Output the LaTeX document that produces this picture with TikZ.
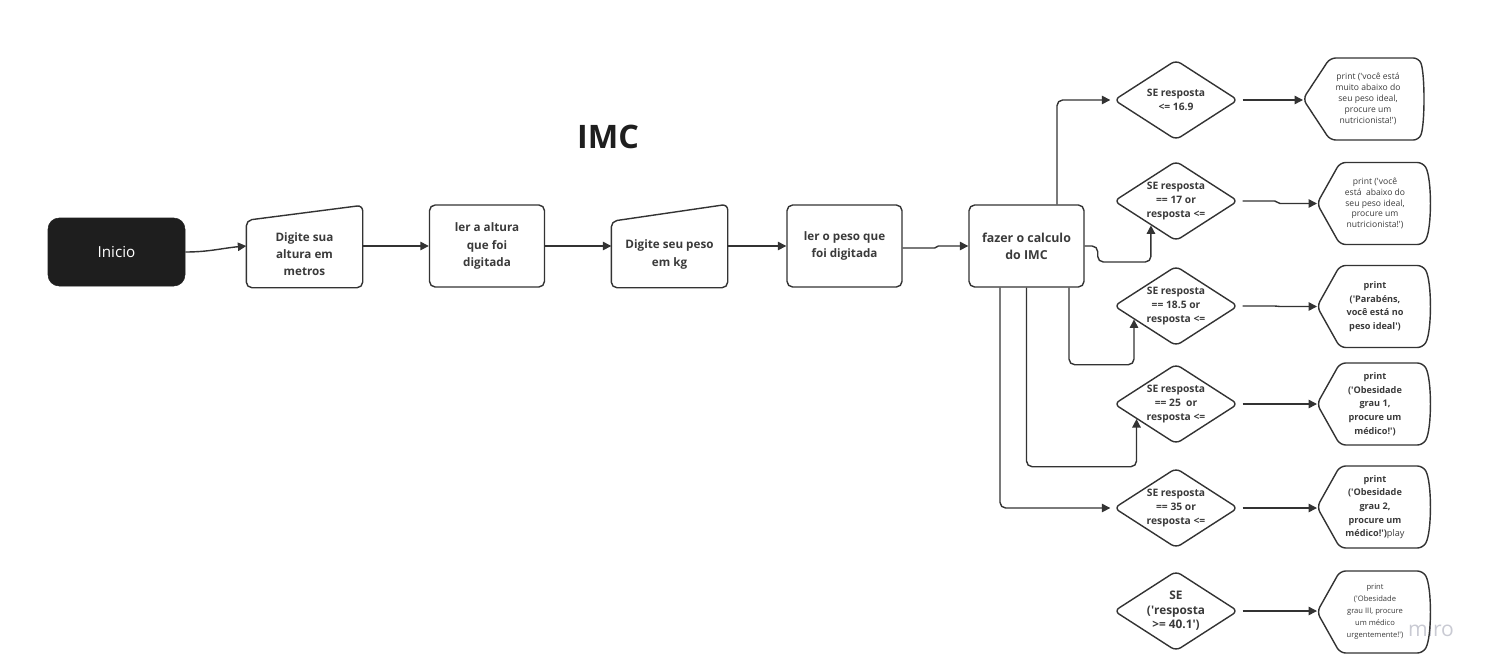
\documentclass[tikz,border=0pt]{standalone}
\usepackage{fontspec}
\setmainfont{Open Sans}
\usetikzlibrary{arrows.meta,shapes.geometric,calc}
\definecolor{ink}{HTML}{1E1E1E}
\definecolor{lineclr}{HTML}{333333}
\definecolor{txtclr}{HTML}{3A3A3A}
\definecolor{mirogray}{HTML}{C9CAD3}
\newlength\pxu
\setlength\pxu{0.025cm}

\begin{document}
\begin{tikzpicture}[
    x=0.025cm, y=-0.025cm,
    start/.style={fill=ink, draw=ink, rounded corners=8pt, minimum width=137\pxu,
                  minimum height=68\pxu, text=white, font=\fontsize{10.8}{13}\selectfont},
    proc/.style={draw=lineclr, line width=1pt, rounded corners=4pt, minimum width=115\pxu,
                 minimum height=82\pxu, align=center, text=txtclr,
                 font=\fontsize{8.3}{12.3}\selectfont\bfseries},
    inbox/.style={proc, draw=none, minimum height=66\pxu},
    outline/.style={draw=lineclr, line width=1pt, rounded corners=4pt},
    cond/.style={diamond, aspect=1.55, draw=lineclr, line width=1pt, rounded corners=4pt,
                 minimum width=124\pxu, minimum height=80\pxu, inner sep=0pt, align=center,
                 text=txtclr, font=\fontsize{7.3}{9.8}\selectfont\bfseries},
    disp/.style={align=center, inner sep=0pt, text=txtclr, font=\fontsize{6.1}{7.7}\selectfont},
    dispb/.style={disp, font=\fontsize{6.5}{9.7}\selectfont\bfseries},
    arr/.style={-{Triangle[length=6pt,width=6pt]}, draw=lineclr, line width=1pt, rounded corners=4pt},
    jog/.style={arr, sharp corners},
]
\useasboundingbox (0,0) rectangle (1490,671);

% ── Title ─────────────────────────────────────────────
\node[font=\fontsize{23}{26}\selectfont\bfseries, text=ink] (title) at (608,137) {IMC};

% ── Main row ──────────────────────────────────────────
\node[start] (ini) at (116.5,252) {Inicio};
\node[inbox] (alt) at (304.5,254) {Digite sua\\altura em\\metros};
\draw[outline] (alt.north west) -- ([yshift=15\pxu]alt.north east)
    -- (alt.south east) -- (alt.south west) -- cycle;
\node[proc] (lalt) at (487,246) {ler a altura\\que foi\\digitada};
\node[inbox, minimum height=65\pxu] (kg) at (669.5,254.5) {Digite seu peso\\em kg};
\draw[outline] (kg.north west) -- ([yshift=17\pxu]kg.north east)
    -- (kg.south east) -- (kg.south west) -- cycle;
\node[proc] (lpeso) at (844.5,246) {ler o peso que\\foi digitada};
\node[proc, font=\fontsize{8.8}{12.3}\selectfont\bfseries] (imc) at (1026.5,246) {fazer o calculo\\do IMC};

% ── Conditions ────────────────────────────────────────
\node[cond] (c1) at (1176,100) {SE resposta\\<= 16.9};
\node[cond] (c2) at (1176,201) {SE resposta\\== 17 or\\resposta <=};
\node[cond] (c3) at (1176,306) {SE resposta\\== 18.5 or\\resposta <=};
\node[cond] (c4) at (1176,404) {SE resposta\\== 25~ or\\resposta <=};
\node[cond] (c5) at (1176,508) {SE resposta\\== 35 or\\resposta <=};
\node[cond, font=\fontsize{8.4}{10.3}\selectfont\bfseries] (c6) at (1176,611)
    {SE\\(\textquotesingle resposta\\>= 40.1\textquotesingle)};

% ── Watermark ─────────────────────────────────────────
\node[text=mirogray, font=\fontsize{15}{15}\selectfont] (miro) at (1431,629) {miro};

% ── Outputs ───────────────────────────────────────────
\node[disp] (p1) at (1368,99)
    {print (\textquotesingle você está\\muito abaixo do\\seu peso ideal,\\procure um\\nutricionista!\textquotesingle)};
\node[disp] (p2) at (1375,203.5)
    {print (\textquotesingle você\\está~ abaixo do\\seu peso ideal,\\procure um\\nutricionista!\textquotesingle)};
\node[dispb] (p3) at (1375,306.5)
    {print\\(\textquotesingle Parabéns,\\você está no\\peso ideal\textquotesingle)};
\node[dispb] (p4) at (1375,404)
    {print\\(\textquotesingle Obesidade\\grau 1,\\procure um\\médico!\textquotesingle)};
\node[dispb] (p5) at (1375,507)
    {print\\(\textquotesingle Obesidade\\grau 2,\\procure um\\médico!\textquotesingle)\mdseries play};
\node[disp, font=\fontsize{5.4}{8.5}\selectfont] (p6) at (1375,612)
    {print\\(\textquotesingle Obesidade\\grau III, procure\\um médico\\urgentemente!\textquotesingle)};

\foreach \p/\t/\f/\r/\b in {p1/65/38/51/6, p2/58/35/48/9, p3/58/35/48/9,
                            p4/58/35/48/9, p5/58/35/48/9, p6/58/35/48/9}
  \draw[outline] ($(\p)+(-\t,0)$) coordinate (\p-tip) -- ($(\p)+(-\f,-41)$) -- ($(\p)+(\r,-41)$)
      .. controls ($(\p)+(\r+\b,-25)$) and ($(\p)+(\r+\b,25)$) .. ($(\p)+(\r,41)$)
      -- ($(\p)+(-\f,41)$) -- cycle;

% ── Main row flow ─────────────────────────────────────
\draw[arr] (ini.east) to[out=0, in=185] (alt.west |- lalt.west);
\draw[arr] (alt.east |- lalt.west) -- (lalt.west);
\draw[arr] (lalt.east) -- (kg.west |- lalt.east);
\draw[arr] (kg.east |- lpeso.west) -- (lpeso.west);
\draw[jog] ([yshift=-2\pxu]lpeso.east) -- ++(32,0) -- ([xshift=-30\pxu]imc.west) -- (imc.west);

% ── IMC → conditions ──────────────────────────────────
\draw[arr, shorten >=3\pxu] ([xshift=30.5\pxu]imc.north) |- (c1.west);
\draw[arr] (imc.east) -- ++(13,0) -- ++(0,16) -| ($(c2.west)!0.6!(c2.south)$);
\draw[arr] ([xshift=42.5\pxu]imc.south) -- ++(0,77) -| ($(c3.west)!0.33!(c3.south)$);
\draw[arr] (imc.south) -- ++(0,179) -| ($(c4.west)!0.37!(c4.south)$);
\draw[arr, shorten >=3\pxu] ([xshift=-26.5\pxu]imc.south) |- (c5.west);

% ── Conditions → outputs ──────────────────────────────
\foreach \c/\p in {c1/p1, c4/p4, c5/p5, c6/p6}
  \draw[arr, shorten <=4\pxu] (\c.east) -- (\c.east -| \p-tip);
\foreach \c/\p in {c2/p2, c3/p3}
  \draw[jog, shorten <=4\pxu] (\c.east) -- ++(36,0) -- ([xshift=-37\pxu]\p-tip) -- (\p-tip);

\end{tikzpicture}
\end{document}
